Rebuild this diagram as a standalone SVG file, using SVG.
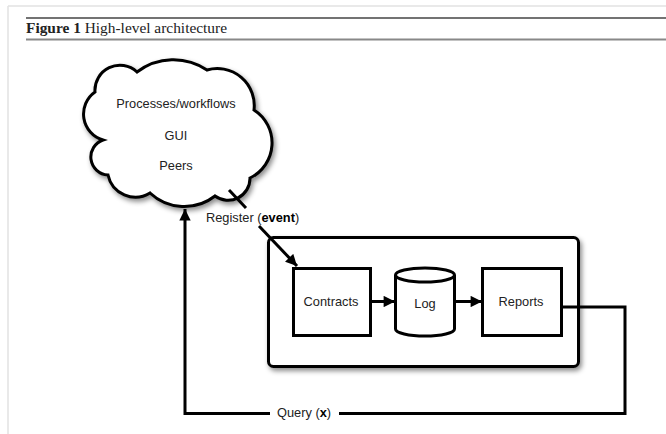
<svg xmlns="http://www.w3.org/2000/svg" width="666" height="434" viewBox="0 0 666 434">
<defs>
<filter id="sh" x="-20%" y="-20%" width="140%" height="140%">
<feDropShadow dx="2" dy="3" stdDeviation="2.5" flood-color="#000" flood-opacity="0.45"/>
</filter>
<marker id="ah" viewBox="0 0 10 10" refX="10" refY="5" markerWidth="4.2" markerHeight="3.8" orient="auto" markerUnits="strokeWidth">
<path d="M0,0 L10,5 L0,10 z" fill="#000"/>
</marker>
</defs>
<style>
.t{font-family:"Liberation Sans",Arial,sans-serif;font-size:12.8px;fill:#222;}
.b{font-weight:bold;fill:#000;}
.s{fill:#fff;stroke:#000;stroke-width:3;}
.c{fill:none;stroke:#000;stroke-width:3;}
.cap{font-family:"Liberation Serif","Times New Roman",serif;font-size:14px;fill:#222;}
</style>
<rect width="666" height="434" fill="#fff"/>
<g id="frame">
<line x1="8" y1="6" x2="666" y2="6" stroke="#e2e2e2" stroke-width="1.5"/>
<line x1="8" y1="6" x2="8" y2="434" stroke="#e2e2e2" stroke-width="1.5"/>
<line x1="26" y1="18" x2="666" y2="18" stroke="#444" stroke-width="1.5"/>
<line x1="26" y1="39.5" x2="666" y2="39.5" stroke="#888" stroke-width="2"/>
<text class="cap" x="26" y="33" textLength="201" lengthAdjust="spacingAndGlyphs"><tspan font-weight="bold">Figure 1</tspan> High-level architecture</text>
</g>
<g id="cloud">
<path class="s" filter="url(#sh)" stroke-width="2.5" d="M95,92 A25,25 0 0 1 137,72 A60,60 0 0 1 207,70 A37,37 0 0 1 254,110 A39,39 0 0 1 250,178 A22,22 0 0 1 215,196 A50,50 0 0 1 150,193 A28,28 0 0 1 108,175 A18,18 0 0 1 103,140 A27,27 0 0 1 95,92 Z"/>
<text class="t" x="176" y="108" text-anchor="middle">Processes/workflows</text>
<text class="t" x="176" y="140" text-anchor="middle">GUI</text>
<text class="t" x="176" y="170" text-anchor="middle">Peers</text>
</g>
<g id="system">
<rect class="s" filter="url(#sh)" x="268.5" y="237.5" width="310" height="129" rx="5"/>
</g>
<g id="contracts">
<rect class="s" x="293.5" y="268.5" width="77" height="67"/>
<text class="t" x="331" y="306" text-anchor="middle">Contracts</text>
</g>
<g id="log">
<path class="s" d="M395.5,275 L395.5,329 A29.5,7 0 0 0 454.5,329 L454.5,275 A29.5,7 0 0 0 395.5,275 Z"/>
<path class="c" d="M395.5,275 A29.5,7 0 0 0 454.5,275" stroke-width="2.5"/>
<text class="t" x="425" y="308" text-anchor="middle" font-size="10">Log</text>
</g>
<g id="reports">
<rect class="s" x="482.5" y="268.5" width="79" height="67"/>
<text class="t" x="521" y="306" text-anchor="middle">Reports</text>
</g>
<g id="connectors">
<line class="c" x1="229" y1="190" x2="246" y2="208"/>
<line class="c" x1="259" y1="226" x2="297" y2="266" marker-end="url(#ah)"/>
<text class="t" x="206" y="222">Register (<tspan class="b">event</tspan>)</text>
<line class="c" x1="371" y1="301.5" x2="395" y2="301.5" marker-end="url(#ah)"/>
<line class="c" x1="455" y1="301.5" x2="482" y2="301.5" marker-end="url(#ah)"/>
<polyline class="c" points="562,307 625,307 625,413.5 339,413.5"/>
<polyline class="c" points="270,413.5 185,413.5 185,209" marker-end="url(#ah)"/>
<text class="t" x="277" y="417">Query (<tspan class="b">x</tspan>)</text>
</g>
</svg>
